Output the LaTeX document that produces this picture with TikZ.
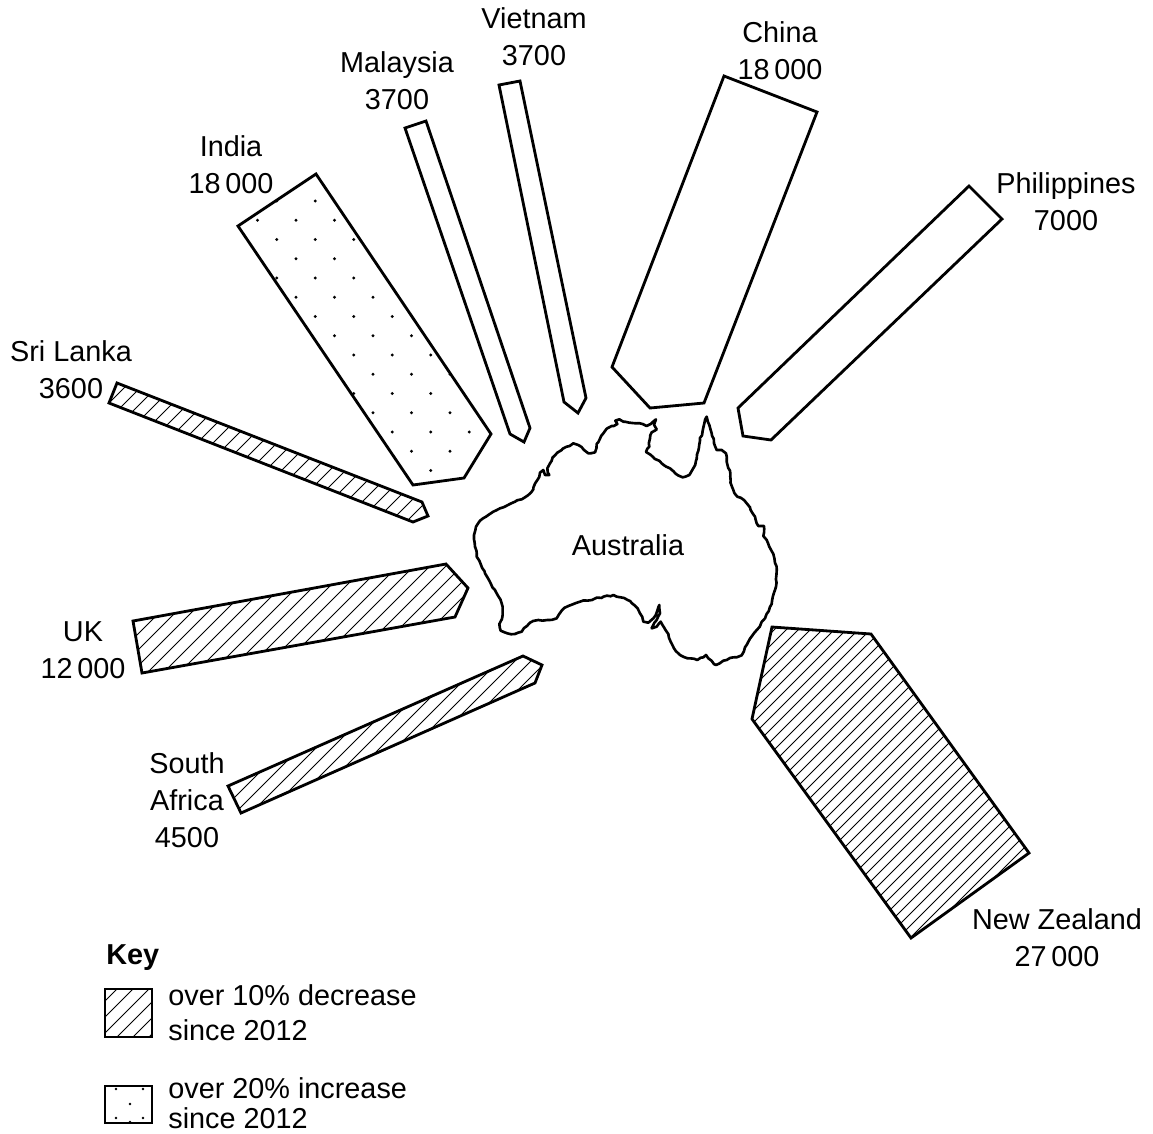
\documentclass[tikz,border=0pt]{standalone}
\usepackage{fontspec}
\setmainfont{Liberation Sans}
\usetikzlibrary{decorations.pathmorphing}
\begin{document}
\begin{tikzpicture}[x=0.02cm, y=-0.02cm,
  outline/.style={line width=1.6pt, line join=miter},
  hatchline/.style={line width=0.45pt},
  lab/.style={align=center, inner sep=0pt, font=\fontsize{16.4}{21}\selectfont},
  keytext/.style={inner sep=0pt, anchor=base west, font=\fontsize{16.4}{21}\selectfont},
  coast/.style={line width=1.5pt, line join=round, decorate,
     decoration={random steps, segment length=2.2pt, amplitude=0.45pt}}]
\useasboundingbox (0,0) rectangle (1153,1133);
\pgfmathsetseed{7}

% ---------- coordinates of the bars ----------
\coordinate (SL1) at (117,383); \coordinate (SL2) at (109,403); \coordinate (SL3) at (413,522);
\coordinate (SL4) at (428,516); \coordinate (SL5) at (422,502);
\coordinate (UK1) at (133,621); \coordinate (UK2) at (142,673); \coordinate (UK3) at (455,617);
\coordinate (UK4) at (468,588); \coordinate (UK5) at (446,564);
\coordinate (SA1) at (228,786); \coordinate (SA2) at (241,813); \coordinate (SA3) at (535,683);
\coordinate (SA4) at (542,665); \coordinate (SA5) at (523,656);
\coordinate (NZ1) at (772,627); \coordinate (NZ2) at (871,634); \coordinate (NZ3) at (1029,853);
\coordinate (NZ4) at (911,938); \coordinate (NZ5) at (752,719);
\coordinate (IN1) at (316,174); \coordinate (IN2) at (238,226); \coordinate (IN3) at (413,485);
\coordinate (IN4) at (464,478); \coordinate (IN5) at (491,434);
\coordinate (MA1) at (405,128); \coordinate (MA2) at (426,121); \coordinate (MA3) at (530,428);
\coordinate (MA4) at (524,442); \coordinate (MA5) at (510,434);
\coordinate (VN1) at (499,85); \coordinate (VN2) at (520,81); \coordinate (VN3) at (586,398);
\coordinate (VN4) at (578,413); \coordinate (VN5) at (564,402);
\coordinate (CN1) at (724,76); \coordinate (CN2) at (817,112); \coordinate (CN3) at (704,403);
\coordinate (CN4) at (650,408); \coordinate (CN5) at (612,367);
\coordinate (PH1) at (969,186); \coordinate (PH2) at (1002,219); \coordinate (PH3) at (771,440);
\coordinate (PH4) at (743,436); \coordinate (PH5) at (738,408);
\coordinate (K1a) at (105,989); \coordinate (K1b) at (152,1037);
\coordinate (K2a) at (105,1086); \coordinate (K2b) at (152,1123);

% ---------- hatching ----------
\begin{scope}
  \clip (SL1)--(SL2)--(SL3)--(SL4)--(SL5)--cycle;
  \foreach \c in {480,496,...,960} \draw[hatchline] (\c,0) -- (0,\c);
\end{scope}
\begin{scope}
  \clip (UK1)--(UK2)--(UK3)--(UK4)--(UK5)--cycle;
  \foreach \c in {740,756,...,1100} \draw[hatchline] (\c,0) -- (0,\c);
\end{scope}
\begin{scope}
  \clip (SA1)--(SA2)--(SA3)--(SA4)--(SA5)--cycle;
  \foreach \c in {1000,1016,...,1240} \draw[hatchline] (\c,0) -- (0,\c);
\end{scope}
\begin{scope}
  \clip (NZ1)--(NZ2)--(NZ3)--(NZ4)--(NZ5)--cycle;
  \foreach \c in {1380,1392,...,1900} \draw[hatchline] (\c,0) -- (0,\c);
\end{scope}
\begin{scope}
  \clip (K1a) rectangle (K1b);
  \foreach \c in {1090,1106,...,1200} \draw[hatchline] (\c,0) -- (0,\c);
\end{scope}

% ---------- dots ----------
\begin{scope}
  \clip (IN1)--(IN2)--(IN3)--(IN4)--(IN5)--cycle;
  \foreach \j in {-2,...,15} {
    \foreach \k in {-4,...,6} {
      \fill ({315.3+(2*\k+mod(\j+20,2))*19.25},{201+\j*19.25}) circle[radius=0.9pt];
    }
  }
\end{scope}
\foreach \p in {(116,1089),(143,1089),(130,1104),(116,1118),(143,1118),(130,1122)}
  \fill \p circle[radius=0.8pt];

% ---------- outlines ----------
\draw[outline] (SL1)--(SL2)--(SL3)--(SL4)--(SL5)--cycle;
\draw[outline] (UK1)--(UK2)--(UK3)--(UK4)--(UK5)--cycle;
\draw[outline] (SA1)--(SA2)--(SA3)--(SA4)--(SA5)--cycle;
\draw[outline] (NZ1)--(NZ2)--(NZ3)--(NZ4)--(NZ5)--cycle;
\draw[outline] (IN1)--(IN2)--(IN3)--(IN4)--(IN5)--cycle;
\draw[outline] (MA1)--(MA2)--(MA3)--(MA4)--(MA5)--cycle;
\draw[outline] (VN1)--(VN2)--(VN3)--(VN4)--(VN5)--cycle;
\draw[outline] (CN1)--(CN2)--(CN3)--(CN4)--(CN5)--cycle;
\draw[outline] (PH1)--(PH2)--(PH3)--(PH4)--(PH5)--cycle;
\draw[outline] (K1a) rectangle (K1b);
\draw[outline] (K2a) rectangle (K2b);

% ---------- Australia ----------
\begin{scope}[shift={(460,400)}, scale=1/3]
\draw[coast] (48,380) -- (42,405) -- (45,440) -- (50,470) -- (58,482) -- (62,492) -- (75,520)
 -- (92,550) -- (110,580) -- (125,610) -- (128,645) -- (118,672) -- (122,692) -- (142,700)
 -- (165,702) -- (185,695) -- (210,668) -- (235,660) -- (262,660) -- (290,655) -- (305,632)
 -- (325,618) -- (360,605) -- (400,598) -- (430,590) -- (460,585) -- (482,592) -- (510,603)
 -- (525,617) -- (540,640) -- (550,665) -- (565,668) -- (580,655) -- (592,632) -- (598,615)
 -- (600,640) -- (590,660) -- (575,685) -- (590,680) -- (602,665) -- (612,682) -- (625,702)
 -- (632,725) -- (642,745) -- (660,765) -- (690,775) -- (712,780) -- (730,772) -- (738,765)
 -- (745,775) -- (768,795) -- (790,782) -- (820,772) -- (845,766) -- (855,742) -- (870,716)
 -- (892,688) -- (915,655) -- (935,612) -- (948,560) -- (950,500) -- (940,462) -- (925,432)
 -- (910,408) -- (912,378) -- (895,378) -- (885,350) -- (870,322) -- (852,300) -- (832,290)
 -- (820,270) -- (812,242) -- (810,212) -- (800,185) -- (798,160) -- (785,150) -- (770,150)
 -- (762,130) -- (755,100) -- (748,75) -- (740,50) -- (733,70) -- (728,92) -- (720,122)
 -- (715,152) -- (708,182) -- (698,208) -- (688,225) -- (668,232) -- (648,222) -- (630,205)
 -- (605,190) -- (580,172) -- (558,156) -- (568,140) -- (570,115) -- (575,97) -- (590,88)
 -- (582,74) -- (588,58) -- (572,72) -- (560,78) -- (548,72) -- (528,70) -- (508,68)
 -- (490,65) -- (478,58) -- (466,62) -- (472,72) -- (455,78) -- (440,86) -- (430,100)
 -- (420,116) -- (410,132) -- (405,157) -- (385,160) -- (372,150) -- (355,135) -- (340,130)
 -- (320,140) -- (305,150) -- (292,158) -- (278,172) -- (270,190) -- (262,205) -- (268,225)
 -- (255,225) -- (250,210) -- (240,218) -- (232,240) -- (220,268) -- (205,285) -- (185,298)
 -- (165,305) -- (140,317) -- (120,325) -- (100,335) -- (78,350) -- (60,362) -- cycle;
\end{scope}

% ---------- labels ----------
\node[lab] (aus) at (628,545) {Australia};
\node[lab] (vn) at (534,37) {Vietnam\\3700};
\node[lab] (ma) at (397,81) {Malaysia\\3700};
\node[lab] (cn) at (780,51) {China\\18\,000};
\node[lab] (in) at (231,165) {India\\18\,000};
\node[lab] (ph) at (1066,202) {Philippines\\7000};
\node[lab] (sl) at (71,370) {Sri Lanka\\3600};
\node[lab] (uk) at (83,650) {UK\\12\,000};
\node[lab] (sa) at (187,800) {South\\Africa\\4500};
\node[lab] (nz) at (1057,938) {New Zealand\\27\,000};
\node[lab, font=\fontsize{16.4}{21}\selectfont\bfseries, anchor=west] (key) at (106,958) {Key};
\node[keytext] (k1a) at (168,1005) {over 10\% decrease};
\node[keytext] (k1b) at (168,1040) {since 2012};
\node[keytext] (k2a) at (168,1098) {over 20\% increase};
\node[keytext] (k2b) at (168,1128) {since 2012};
\end{tikzpicture}
\end{document}
